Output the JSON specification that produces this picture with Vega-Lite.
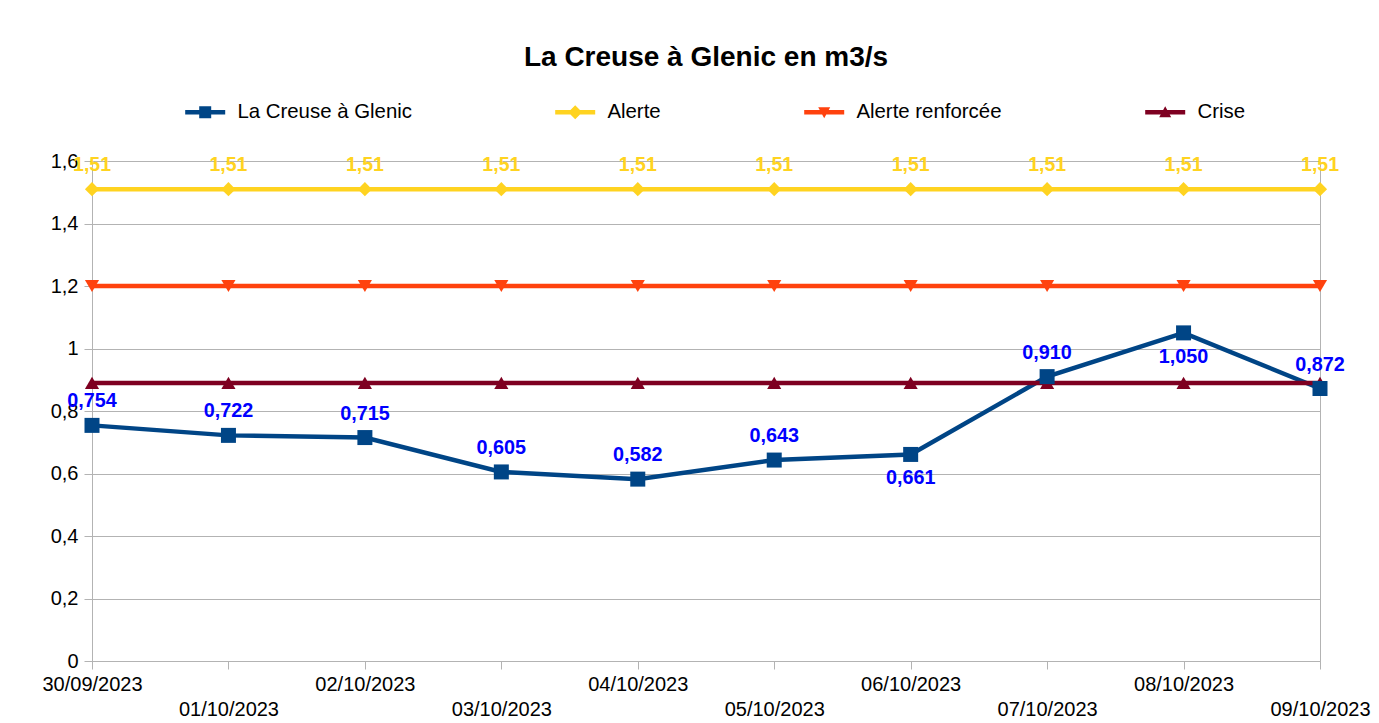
{
  "$schema": "https://vega.github.io/schema/vega-lite/v6.json",
  "autosize": "none",
  "padding": {"left": 92, "top": 161, "right": 59, "bottom": 62},
  "width": 1228,
  "height": 500,
  "background": "white",
  "title": {"text": "La Creuse à Glenic en m3/s", "font": "Liberation Sans", "fontSize": 28, "fontWeight": "bold", "color": "#000000", "anchor": "middle", "frame": "group", "offset": 30},
  "config": {
    "locale": {"number": {"decimal": ",", "thousands": "\u00a0", "grouping": [3], "currency": ["", " €"]}},
    "view": {"stroke": "#b3b3b3", "strokeWidth": 1},
    "font": "Liberation Sans"
  },
  "data": {"values": [
    {"date": "30/09/2023", "series": "La Creuse à Glenic", "value": 0.754},
    {"date": "01/10/2023", "series": "La Creuse à Glenic", "value": 0.722},
    {"date": "02/10/2023", "series": "La Creuse à Glenic", "value": 0.715},
    {"date": "03/10/2023", "series": "La Creuse à Glenic", "value": 0.605},
    {"date": "04/10/2023", "series": "La Creuse à Glenic", "value": 0.582},
    {"date": "05/10/2023", "series": "La Creuse à Glenic", "value": 0.643},
    {"date": "06/10/2023", "series": "La Creuse à Glenic", "value": 0.661},
    {"date": "07/10/2023", "series": "La Creuse à Glenic", "value": 0.910},
    {"date": "08/10/2023", "series": "La Creuse à Glenic", "value": 1.050},
    {"date": "09/10/2023", "series": "La Creuse à Glenic", "value": 0.872},
    {"date": "30/09/2023", "series": "Alerte", "value": 1.51},
    {"date": "01/10/2023", "series": "Alerte", "value": 1.51},
    {"date": "02/10/2023", "series": "Alerte", "value": 1.51},
    {"date": "03/10/2023", "series": "Alerte", "value": 1.51},
    {"date": "04/10/2023", "series": "Alerte", "value": 1.51},
    {"date": "05/10/2023", "series": "Alerte", "value": 1.51},
    {"date": "06/10/2023", "series": "Alerte", "value": 1.51},
    {"date": "07/10/2023", "series": "Alerte", "value": 1.51},
    {"date": "08/10/2023", "series": "Alerte", "value": 1.51},
    {"date": "09/10/2023", "series": "Alerte", "value": 1.51},
    {"date": "30/09/2023", "series": "Alerte renforcée", "value": 1.2},
    {"date": "01/10/2023", "series": "Alerte renforcée", "value": 1.2},
    {"date": "02/10/2023", "series": "Alerte renforcée", "value": 1.2},
    {"date": "03/10/2023", "series": "Alerte renforcée", "value": 1.2},
    {"date": "04/10/2023", "series": "Alerte renforcée", "value": 1.2},
    {"date": "05/10/2023", "series": "Alerte renforcée", "value": 1.2},
    {"date": "06/10/2023", "series": "Alerte renforcée", "value": 1.2},
    {"date": "07/10/2023", "series": "Alerte renforcée", "value": 1.2},
    {"date": "08/10/2023", "series": "Alerte renforcée", "value": 1.2},
    {"date": "09/10/2023", "series": "Alerte renforcée", "value": 1.2},
    {"date": "30/09/2023", "series": "Crise", "value": 0.89},
    {"date": "01/10/2023", "series": "Crise", "value": 0.89},
    {"date": "02/10/2023", "series": "Crise", "value": 0.89},
    {"date": "03/10/2023", "series": "Crise", "value": 0.89},
    {"date": "04/10/2023", "series": "Crise", "value": 0.89},
    {"date": "05/10/2023", "series": "Crise", "value": 0.89},
    {"date": "06/10/2023", "series": "Crise", "value": 0.89},
    {"date": "07/10/2023", "series": "Crise", "value": 0.89},
    {"date": "08/10/2023", "series": "Crise", "value": 0.89},
    {"date": "09/10/2023", "series": "Crise", "value": 0.89}
  ]},
  "encoding": {
    "x": {"field": "date", "type": "ordinal", "sort": null,
      "scale": {"type": "point", "padding": 0},
      "axis": {"title": null, "labelAngle": 0, "labelFont": "Liberation Sans", "labelFontSize": 20, "labelColor": "#000000",
        "labelBaseline": "top", "labelPadding": 5, "labelLineHeight": 25,
        "labelExpr": "round(datum.index * 9) % 2 == 1 ? ['', datum.label] : datum.label",
        "tickColor": "#b3b3b3", "tickSize": 8, "domainColor": "#b3b3b3", "grid": false, "labelOverlap": false}},
    "y": {"field": "value", "type": "quantitative",
      "scale": {"domain": [0, 1.6], "nice": false, "zero": true},
      "axis": {"title": null, "values": [0, 0.2, 0.4, 0.6, 0.8, 1, 1.2, 1.4, 1.6], "format": "~g",
        "labelFont": "Liberation Sans", "labelFontSize": 20, "labelColor": "#000000", "labelPadding": 6,
        "tickColor": "#b3b3b3", "tickSize": 8, "domainColor": "#b3b3b3", "gridColor": "#b3b3b3", "gridWidth": 1}}
  },
  "layer": [
    {
      "mark": {"type": "point", "filled": true, "opacity": 0.001, "size": 10},
      "encoding": {
        "color": {"field": "series", "type": "nominal",
          "scale": {"domain": ["La Creuse à Glenic", "Alerte", "Alerte renforcée", "Crise"], "range": ["#004586", "#ffd320", "#ff420e", "#7e0021"]},
          "legend": {"title": null, "orient": "none", "direction": "horizontal", "legendX": 103, "legendY": -59,
            "columns": 4, "gridAlign": "none", "columnPadding": 143,
            "symbolSize": 400, "symbolOpacity": 1, "symbolStrokeWidth": 0,
            "labelFont": "Liberation Sans", "labelFontSize": 20.4, "labelColor": "#000000", "labelOffset": 22, "labelLimit": 400}},
        "shape": {"field": "series", "type": "nominal",
          "scale": {"domain": ["La Creuse à Glenic", "Alerte", "Alerte renforcée", "Crise"],
            "range": [
              "M-2,-0.22H2V0.22H-2Z M-0.6,-0.6H0.6V0.6H-0.6Z",
              "M-2,-0.22H2V0.22H-2Z M0,-0.7L0.7,0L0,0.7L-0.7,0Z",
              "M-2,-0.22H2V0.22H-2Z M-0.6,-0.5L0.6,-0.5L0,0.6Z",
              "M-2,-0.22H2V0.22H-2Z M0,-0.6L0.6,0.5L-0.6,0.5Z"
            ]},
          "legend": {"title": null, "orient": "none", "direction": "horizontal", "legendX": 103, "legendY": -59,
            "columns": 4, "gridAlign": "none", "columnPadding": 143,
            "symbolSize": 400, "symbolOpacity": 1, "symbolStrokeWidth": 0,
            "labelFont": "Liberation Sans", "labelFontSize": 20.4, "labelColor": "#000000", "labelOffset": 22, "labelLimit": 400}}
      }
    },
    {
      "mark": {"type": "line", "strokeWidth": 4.5},
      "encoding": {
        "stroke": {"field": "series", "type": "nominal", "legend": null,
          "scale": {"domain": ["La Creuse à Glenic", "Alerte", "Alerte renforcée", "Crise"], "range": ["#004586", "#ffd320", "#ff420e", "#7e0021"]}},
        "detail": {"field": "series"}
      }
    },
    {
      "transform": [{"filter": "datum.series == 'Alerte'"}],
      "mark": {"type": "point", "shape": "diamond", "filled": true, "opacity": 1, "size": 200, "color": "#ffd320"},
      "encoding": {}
    },
    {
      "transform": [{"filter": "datum.series == 'Alerte renforcée'"}],
      "mark": {"type": "point", "shape": "triangle-down", "filled": true, "opacity": 1, "size": 200, "color": "#ff420e"},
      "encoding": {}
    },
    {
      "transform": [{"filter": "datum.series == 'Crise'"}],
      "mark": {"type": "point", "shape": "triangle-up", "filled": true, "opacity": 1, "size": 200, "color": "#7e0021"},
      "encoding": {}
    },
    {
      "transform": [{"filter": "datum.series == 'La Creuse à Glenic'"}],
      "mark": {"type": "point", "shape": "square", "filled": true, "opacity": 1, "size": 225, "color": "#004586"},
      "encoding": {}
    },
    {
      "transform": [{"filter": "datum.series == 'La Creuse à Glenic' && datum.date != '06/10/2023' && datum.date != '08/10/2023'"}],
      "mark": {"type": "text", "font": "Liberation Sans", "fontSize": 19.8, "fontWeight": "bold", "color": "#0000ff", "baseline": "alphabetic", "dy": -18},
      "encoding": {"text": {"field": "value", "type": "quantitative", "format": ".3f"}}
    },
    {
      "transform": [{"filter": "datum.series == 'La Creuse à Glenic' && (datum.date == '06/10/2023' || datum.date == '08/10/2023')"}],
      "mark": {"type": "text", "font": "Liberation Sans", "fontSize": 19.8, "fontWeight": "bold", "color": "#0000ff", "baseline": "alphabetic", "dy": 30},
      "encoding": {"text": {"field": "value", "type": "quantitative", "format": ".3f"}}
    },
    {
      "transform": [{"filter": "datum.series == 'Alerte'"}],
      "mark": {"type": "text", "font": "Liberation Sans", "fontSize": 19.5, "fontWeight": "bold", "color": "#ffd320", "baseline": "alphabetic", "dy": -18},
      "encoding": {"text": {"field": "value", "type": "quantitative", "format": ".2f"}}
    }
  ],
  "resolve": {"scale": {"stroke": "independent"}}
}
